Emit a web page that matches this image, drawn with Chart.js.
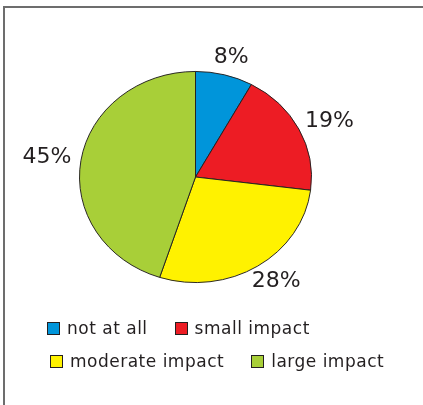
<!DOCTYPE html>
<html lang="en">
<head>
  <meta charset="UTF-8" />
  <title>Impact pie</title>
  <script src="https://cdn.jsdelivr.net/npm/chart.js"></script>
  <style>
    body { margin:0; width:423px; height:405px; overflow:hidden; background:#fff; font-family:'DejaVu Sans',sans-serif; color:#231f20; position:relative; }
    .frame { position:absolute; left:3px; top:6px; width:600px; height:600px; border-left:2px solid #6d6d6d; border-top:2px solid #6d6d6d; }
    #pie { position:absolute; left:0; top:0; }
    .legend { position:absolute; left:0; top:0; font-size:17px; letter-spacing:0.5px; }
    .legend .row { position:absolute; display:flex; align-items:center; white-space:nowrap; }
    .legend .item { display:flex; align-items:center; margin-right:27px; }
    .legend .box { width:11px; height:11px; border:1px solid #231f20; margin-right:7px; }
  </style>
</head>
<body>
  <div class="frame"></div>
  <canvas id="pie" width="423" height="405"></canvas>
  <div class="legend">
    <div class="row" id="row1" style="left:47px; top:318px;"></div>
    <div class="row" id="row2" style="left:50px; top:351px;"></div>
  </div>

  <script>
    const labels = ['not at all', 'small impact', 'moderate impact', 'large impact'];
    const shares = [8, 19, 28, 45];
    const colors = ['#0095da', '#ed1c24', '#fff200', '#a8cf38'];

    // pie is a little flatter than it is wide
    const squashY = 106 / 116.5;

    const squash = {
      id: 'squash',
      beforeDatasetsDraw(chart) {
        const a = chart.getDatasetMeta(0).data[0];
        const ctx = chart.ctx;
        ctx.save();
        ctx.translate(a.x, a.y);
        ctx.scale(1, squashY);
        ctx.translate(-a.x, -a.y);
      },
      afterDatasetsDraw(chart) {
        chart.ctx.restore();
      }
    };

    // percentage labels just outside each slice
    const pctLabels = {
      id: 'pctLabels',
      afterDraw(chart) {
        const ctx = chart.ctx;
        ctx.save();
        ctx.font = '22px "DejaVu Sans"';
        ctx.fillStyle = '#231f20';
        ctx.textAlign = 'center';
        ctx.textBaseline = 'middle';
        chart.getDatasetMeta(0).data.forEach((arc, i) => {
          const mid = (arc.startAngle + arc.endAngle) / 2;
          const c = Math.cos(mid), s = Math.sin(mid);
          const rx = arc.outerRadius + 10;
          const ry = arc.outerRadius * squashY + 10;
          const txt = shares[i] + '%';
          const w = ctx.measureText(txt).width;
          const x = arc.x + rx * c + c * w / 2;
          const y = arc.y + ry * s + s * 8;
          ctx.fillText(txt, x, y);
        });
        ctx.restore();
      }
    };

    new Chart(document.getElementById('pie'), {
      type: 'pie',
      data: {
        labels: labels,
        datasets: [{
          data: shares,
          backgroundColor: colors,
          borderColor: '#231f20',
          borderWidth: 1
        }]
      },
      options: {
        responsive: false,
        animation: false,
        events: [],
        layout: { padding: { left: 79, top: 60.5, right: 111, bottom: 111.5 } },
        plugins: { legend: { display: false }, tooltip: { enabled: false } }
      },
      plugins: [squash, pctLabels]
    });

    // legend in two rows
    labels.forEach((name, i) => {
      const item = document.createElement('div');
      item.className = 'item';
      item.innerHTML = `<span class="box" style="background:${colors[i]}"></span><span>${name}</span>`;
      document.getElementById(i < 2 ? 'row1' : 'row2').appendChild(item);
    });
  </script>
</body>
</html>
